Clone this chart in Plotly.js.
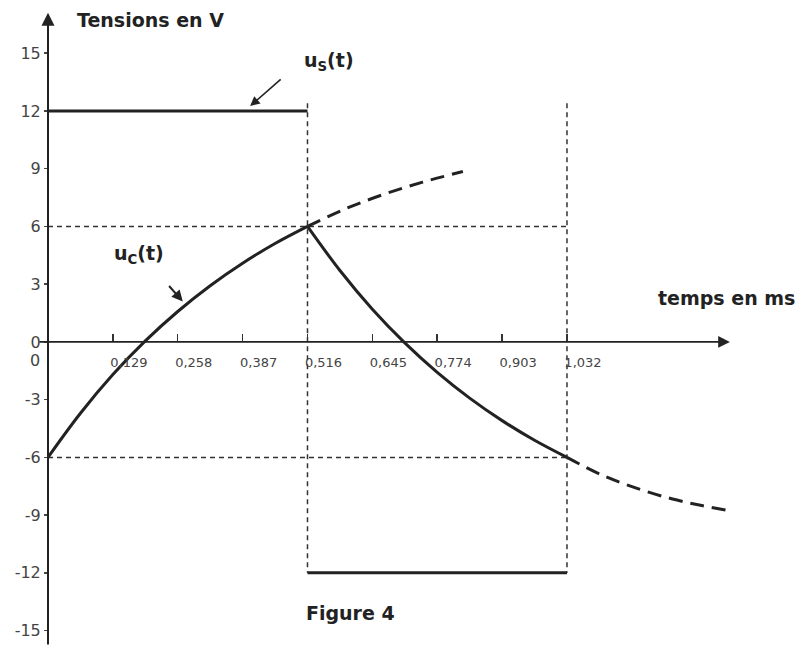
<!DOCTYPE html>
<html>
<head>
<meta charset="utf-8">
<script src="https://cdn.plot.ly/plotly-3.0.1.min.js"></script>
<style>
  html, body { margin: 0; padding: 0; background: #fff; }
  #chart { width: 804px; height: 646px; }
</style>
</head>
<body>
<div id="chart"></div>
<script>
// ---- data ----
// u_s(t): square voltage (V) vs time (ms)
const tS = [0, 0.516, null, 0.516, 1.032];
const uS = [12, 12, null, -12, -12];

// u_c(t): charging branch (solid)
const tCharge = [0, 0.0645, 0.129, 0.1935, 0.258, 0.3225, 0.387, 0.4515, 0.516];
const uCharge = [-6, -3.71, -1.70, 0.05, 1.58, 2.92, 4.09, 5.11, 6];

// u_c(t): discharging branch (solid)
const tDischarge = [0.516, 0.5805, 0.645, 0.7095, 0.774, 0.8385, 0.903, 0.9675, 1.032];
const uDischarge = [6, 3.71, 1.70, -0.05, -1.58, -2.92, -4.09, -5.11, -6];

// dashed continuations of u_c(t)
const tExtUp = [0.516, 0.59, 0.666, 0.745, 0.825];
const uExtUp = [6, 6.9, 7.65, 8.3, 8.85];
const tExtDown = [1.032, 1.1, 1.17, 1.24, 1.3, 1.362];
const uExtDown = [-6, -6.9, -7.6, -8.15, -8.5, -8.8];

// dashed guide lines
const tGuide = [0, 1.032, null, 0, 1.032, null, 0.516, 0.516, null, 1.032, 1.032];
const uGuide = [6, 6, null, -6, -6, null, 12.4, -12, null, 12.4, -12];

// axis ticks
const xTickVals = [0.129, 0.258, 0.387, 0.516, 0.645, 0.774, 0.903, 1.032];
const xTickText = ['0,129', '0,258', '0,387', '0,516', '0,645', '0,774', '0,903', '1,032'];
const yTickVals = [-15, -12, -9, -6, -3, 0, 3, 6, 9, 12, 15];
const yTickText = ['-15', '-12', '-9', '-6', '-3', '0', '3', '6', '9', '12', '15'];

// ---- chart ----
const ink = '#222222';
const xRange = [0, 1.386];
const yRange = [-15.8, 17.14];
const xAxisPos = (0 - yRange[0]) / (yRange[1] - yRange[0]);

const traces = [
  { x: tGuide, y: uGuide, mode: 'lines', line: { color: '#333', width: 1.5, dash: '5px,4px' }, hoverinfo: 'skip' },
  { x: tS, y: uS, mode: 'lines', line: { color: ink, width: 3 }, name: 'u_s(t)' },
  { x: tCharge, y: uCharge, mode: 'lines', line: { color: ink, width: 3, shape: 'spline', smoothing: 1 }, name: 'u_c charge' },
  { x: tDischarge, y: uDischarge, mode: 'lines', line: { color: ink, width: 3, shape: 'spline', smoothing: 1 }, name: 'u_c décharge' },
  { x: tExtUp, y: uExtUp, mode: 'lines', line: { color: ink, width: 3, dash: '14px,8px', shape: 'spline' }, hoverinfo: 'skip' },
  { x: tExtDown, y: uExtDown, mode: 'lines', line: { color: ink, width: 3, dash: '14px,8px', shape: 'spline' }, hoverinfo: 'skip' }
];

const fam = 'DejaVu Sans, Liberation Sans, Arial, sans-serif';
const labelFont = { family: fam, size: 19, color: ink };

const plotW = 804 - 48 - 59, plotH = 646 - 12 - 0;
function px2paperX(px) { return (px - 48) / plotW; }
function px2paperY(py) { return (646 - py) / plotH; }

const layout = {
  width: 804,
  height: 646,
  margin: { l: 48, r: 59, t: 12, b: 0 },
  paper_bgcolor: '#ffffff',
  plot_bgcolor: '#ffffff',
  showlegend: false,
  xaxis: {
    range: xRange,
    anchor: 'free',
    position: xAxisPos,
    showgrid: false,
    zeroline: false,
    showline: false,
    tickvals: xTickVals,
    ticktext: xTickText,
    ticks: 'inside',
    ticklen: 8,
    tickwidth: 1.5,
    tickcolor: '#333',
    ticklabelshift: 16,
    ticklabelstandoff: 11,
    tickfont: { family: fam, size: 13, color: '#444' }
  },
  yaxis: {
    range: yRange,
    showgrid: false,
    zeroline: false,
    showline: false,
    tickvals: yTickVals,
    ticktext: yTickText,
    ticks: 'outside',
    ticklen: 3,
    tickwidth: 1.5,
    tickcolor: '#444',
    tickfont: { family: fam, size: 16, color: '#444' }
  },
  annotations: [
    // y axis with arrow
    { x: 0, y: 17.1, xref: 'x', yref: 'y', ax: 0, ay: yRange[0], axref: 'x', ayref: 'y',
      showarrow: true, arrowhead: 2, arrowsize: 1.3, arrowwidth: 2, arrowcolor: ink, text: '' },
    // x axis with arrow
    { x: 1.356, y: 0, xref: 'x', yref: 'y', ax: -0.02, ay: 0, axref: 'x', ayref: 'y',
      showarrow: true, arrowhead: 2, arrowsize: 1.3, arrowwidth: 1.8, arrowcolor: ink, text: '' },
    // origin label of the time axis
    { x: 0, y: 0, xref: 'x', yref: 'y', text: '0', showarrow: false, xshift: -13, yshift: -19,
      font: { family: fam, size: 16, color: '#444' } },
    // titles
    { x: px2paperX(75), y: px2paperY(20), xref: 'paper', yref: 'paper', text: '<b>Tensions en V</b>',
      showarrow: false, xanchor: 'left', yanchor: 'middle', font: labelFont },
    { x: px2paperX(726), y: px2paperY(298), xref: 'paper', yref: 'paper', text: '<b>temps en ms</b>',
      showarrow: false, xanchor: 'center', yanchor: 'middle', font: labelFont },
    { x: px2paperX(350), y: px2paperY(613), xref: 'paper', yref: 'paper', text: '<b>Figure 4</b>',
      showarrow: false, xanchor: 'center', yanchor: 'middle', font: labelFont },
    // curve labels with arrows
    { x: 0.402, y: 12.25, xref: 'x', yref: 'y', ax: 32, ay: -28, showarrow: true, arrowhead: 2,
      arrowsize: 1.2, arrowwidth: 1.6, arrowcolor: ink, text: '' },
    { x: px2paperX(302), y: px2paperY(62), xref: 'paper', yref: 'paper', xanchor: 'left', yanchor: 'middle',
      text: '<b>u<sub>S</sub>(t)</b>', showarrow: false, font: labelFont },
    { x: 0.268, y: 2.1, xref: 'x', yref: 'y', ax: -15, ay: -17, showarrow: true, arrowhead: 2,
      arrowsize: 1.1, arrowwidth: 2, arrowcolor: ink, text: '' },
    { x: px2paperX(112), y: px2paperY(255), xref: 'paper', yref: 'paper', xanchor: 'left', yanchor: 'middle',
      text: '<b>u<sub>C</sub>(t)</b>', showarrow: false, font: labelFont }
  ]
};

Plotly.newPlot('chart', traces, layout, { displayModeBar: false, staticPlot: true });
</script>
</body>
</html>
